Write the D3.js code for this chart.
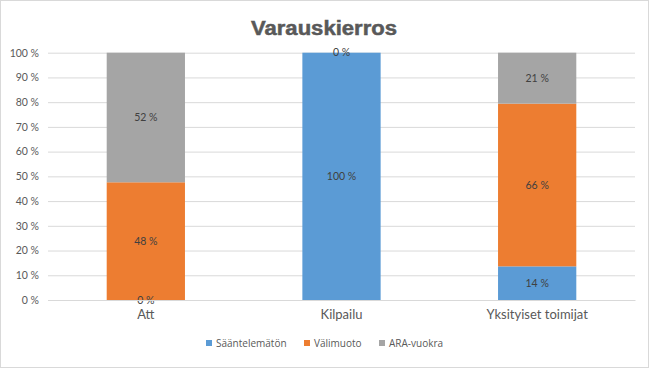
<!DOCTYPE html>
<html><head><meta charset="utf-8">
<script src="https://cdn.jsdelivr.net/npm/d3@7"></script>
<style>body{margin:0;background:#fff}svg{display:block}</style>
</head><body>
<svg id="c" width="649" height="368"></svg>
<script>
const categories = ["Att", "Kilpailu", "Yksityiset toimijat"];
const seriesNames = ["Sääntelemätön", "Välimuoto", "ARA-vuokra"];
const saantelematon = [0, 100, 13.6];
const valimuoto = [47.6, 0, 65.8];
const aravuokra = [52.4, 0, 20.6];
const colors = ["#5b9bd5", "#ed7d31", "#a5a5a5"];
const yTicks = [0,10,20,30,40,50,60,70,80,90,100];

const svg = d3.select("#c");
const W = 649, H = 368;
svg.append("rect").attr("x",0.5).attr("y",0.5).attr("width",W-1).attr("height",H-1)
  .attr("fill","#fff").attr("stroke","#d9d9d9");

const x = d3.scaleBand().domain(categories).range([48, 635]).paddingInner(0.6).paddingOuter(0.3);
const y = d3.scaleLinear().domain([0,100]).range([300, 52.7]);

svg.append("text").attr("x", 324).attr("y", 35).attr("text-anchor","middle")
  .attr("font-family","Liberation Sans, Arial, sans-serif").attr("font-weight","bold")
  .attr("font-size",20).attr("fill","#595959").attr("stroke","#595959").attr("stroke-width",0.5)
  .attr("textLength",146).attr("lengthAdjust","spacingAndGlyphs").text("Varauskierros");

const ga = svg.append("g").attr("transform","translate(48,0)")
  .call(d3.axisLeft(y).tickValues(yTicks).tickSize(-(635-48)).tickFormat(d => d + " %"));
ga.select(".domain").remove();
ga.selectAll(".tick line").attr("stroke","#d9d9d9");
ga.selectAll(".tick text").attr("x",-9).attr("fill","#595959")
  .attr("font-family","Lato, Open Sans, sans-serif").attr("font-size",10.5);

const rows = categories.map((c,i) => ({cat:c, s0:saantelematon[i], s1:valimuoto[i], s2:aravuokra[i]}));
const stack = d3.stack().keys(["s0","s1","s2"])(rows);

stack.forEach((layer, k) => {
  svg.append("g").selectAll("rect").data(layer).join("rect")
    .attr("x", d => x(d.data.cat)).attr("width", x.bandwidth())
    .attr("y", d => y(d[1])).attr("height", d => y(d[0]) - y(d[1]))
    .attr("fill", colors[k]);
});

stack.forEach((layer, k) => {
  layer.forEach((d,i) => {
    const v = d[1]-d[0];
    if (v === 0) {
      if (!((i===0 && k===0) || (i===1 && k===1))) return;
    }
    svg.append("text").attr("x", x(d.data.cat) + x.bandwidth()/2)
      .attr("y", y((d[0]+d[1])/2)).attr("dy","0.35em").attr("text-anchor","middle")
      .attr("font-family","Lato, Open Sans, sans-serif").attr("font-size",10.5)
      .attr("fill","#404040").text(Math.round(v) + " %");
  });
});

const gx = svg.append("g").attr("transform","translate(0,300)")
  .call(d3.axisBottom(x).tickSize(0).tickPadding(10));
gx.select(".domain").attr("stroke","#d9d9d9");
gx.selectAll(".tick text").attr("fill","#595959")
  .attr("font-family","Lato, Open Sans, sans-serif").attr("font-size",13);

const legX = [206, 304, 379];
seriesNames.forEach((n,i) => {
  svg.append("rect").attr("x", legX[i]).attr("y", 340).attr("width",6).attr("height",6).attr("fill",colors[i]);
  svg.append("text").attr("x", legX[i]+10).attr("y", 343).attr("dy","0.35em")
    .attr("font-family","Open Sans, sans-serif").attr("font-size",10)
    .attr("fill","#595959").text(n);
});
</script>
</body></html>
